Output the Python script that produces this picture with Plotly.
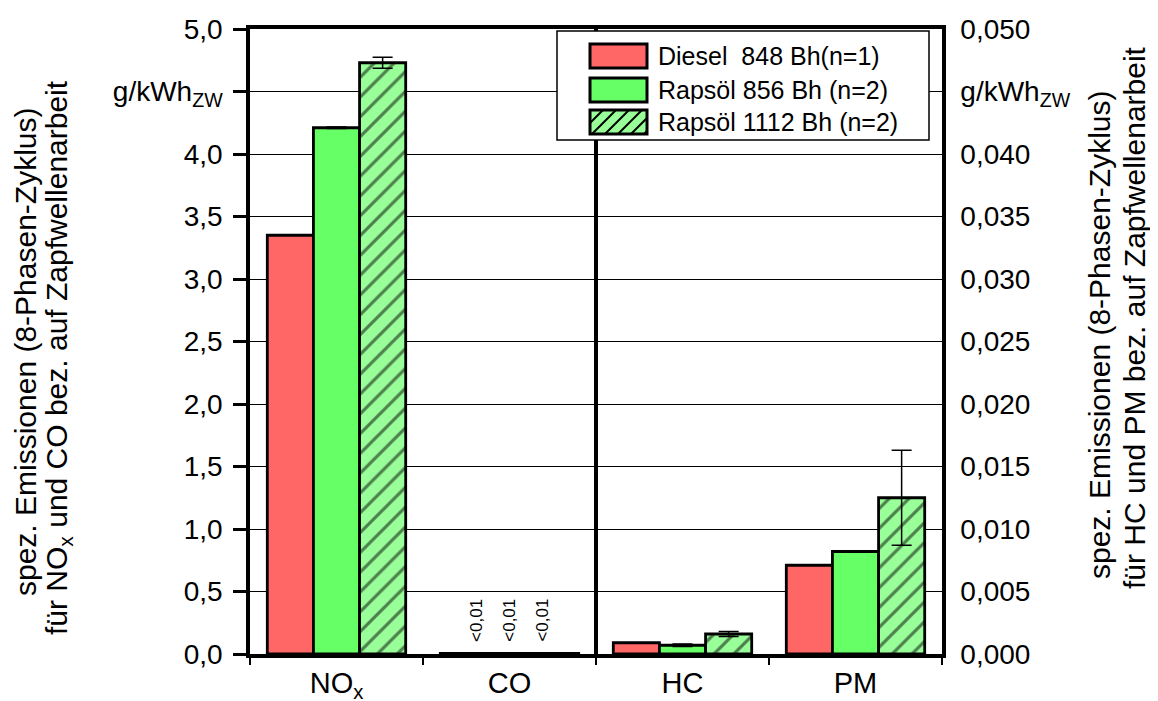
import plotly.graph_objects as go

# ---------------- data ----------------
categories = ["NO<sub>x</sub>", "CO", "HC", "PM"]
left_categories = ["NO<sub>x</sub>", "CO"]      # left axis (g/kWh, 0..5)
right_categories = ["HC", "PM"]                 # right axis (g/kWh, 0..0.05)

series_names = ["Diesel  848 Bh(n=1)", "Rapsöl 856 Bh (n=2)", "Rapsöl 1112 Bh (n=2)"]

# NOx, CO values (left axis)
diesel_left = [3.35, 0.004]
raps856_left = [4.21, 0.004]
raps1112_left = [4.73, 0.004]
diesel_left_err = [0.0, 0.0]
raps856_left_err = [0.006, 0.0]
raps1112_left_err = [0.045, 0.0]

# HC, PM values (right axis)
diesel_right = [0.0009, 0.0071]
raps856_right = [0.0007, 0.0082]
raps1112_right = [0.0016, 0.0125]
diesel_right_err = [0.0, 0.0]
raps856_right_err = [0.0001, 0.0]
raps1112_right_err = [0.0002, 0.0038]

co_labels = ["<0,01", "<0,01", "<0,01"]

left_tickvals = [0, 0.5, 1.0, 1.5, 2.0, 2.5, 3.0, 3.5, 4.0, 4.5, 5.0]
left_ticktext = ["0,0", "0,5", "1,0", "1,5", "2,0", "2,5", "3,0", "3,5", "4,0",
                 "g/kWh<sub>ZW</sub>", "5,0"]
right_tickvals = [0, 0.005, 0.010, 0.015, 0.020, 0.025, 0.030, 0.035, 0.040, 0.045, 0.050]
right_ticktext = ["0,000", "0,005", "0,010", "0,015", "0,020", "0,025", "0,030", "0,035",
                  "0,040", "g/kWh<sub>ZW</sub>", "0,050"]

# ---------------- style ----------------
FONT = "Liberation Sans, Arial, sans-serif"
colors = ["#FF6666", "#66FF66", "#99FF99"]
patterns = ["", "", "/"]
OFF = 8                      # default page body margin
W, H = 1158 - OFF, 701 - OFF
ML, MR, MT, MB = 250 - OFF, 216, 29 - OFF, 47
PW, PH = W - ML - MR, H - MT - MB


def px_to_paper(px, py):
    """page pixel -> paper coords"""
    return (px - OFF - ML) / PW, (H - MB - (py - OFF)) / PH


fig = go.Figure()

left_vals = [diesel_left, raps856_left, raps1112_left]
left_errs = [diesel_left_err, raps856_left_err, raps1112_left_err]
right_vals = [diesel_right, raps856_right, raps1112_right]
right_errs = [diesel_right_err, raps856_right_err, raps1112_right_err]


def marker(i):
    m = dict(color=colors[i], line=dict(color="black", width=2.8))
    if patterns[i]:
        m["pattern"] = dict(shape=patterns[i], fgcolor="black", bgcolor=colors[i],
                            size=14, solidity=0.22)
    return m


for i, name in enumerate(series_names):
    show_err = any(e > 0 for e in left_errs[i])
    fig.add_trace(go.Bar(
        x=left_categories, y=left_vals[i], name=name, yaxis="y", showlegend=False,
        marker=marker(i),
        error_y=dict(type="data", array=left_errs[i], visible=show_err,
                     color="black", thickness=1.5, width=10),
    ))
for i, name in enumerate(series_names):
    show_err = any(e > 0 for e in right_errs[i])
    fig.add_trace(go.Bar(
        x=right_categories, y=right_vals[i], name=name, yaxis="y2", showlegend=False,
        marker=marker(i),
        error_y=dict(type="data", array=right_errs[i], visible=show_err,
                     color="black", thickness=1.5, width=10),
    ))

shapes = []
annotations = []

# divider between left-axis and right-axis categories
div_x = len(left_categories) - 0.5
shapes.append(dict(type="line", xref="x", yref="paper", x0=div_x, x1=div_x, y0=0, y1=1,
                   line=dict(color="black", width=4), layer="above"))

# "<0,01" labels over CO bars
co_idx = categories.index("CO")
offsets = [-0.19, 0.0, 0.19]
for k, lab in enumerate(co_labels):
    annotations.append(dict(x=co_idx + offsets[k], y=0.27, xref="x", yref="y", text=lab,
                            textangle=-90, showarrow=False, xanchor="center", yanchor="middle",
                            font=dict(family=FONT, size=17, color="black")))

# ----- custom legend -----
bx0, by0 = px_to_paper(557, 31)
bx1, by1 = px_to_paper(929, 140)
shapes.append(dict(type="rect", xref="paper", yref="paper", x0=bx0, x1=bx1, y0=by1, y1=by0,
                   fillcolor="white", line=dict(color="black", width=1.5), layer="above"))
row_y = [56, 90, 122]
sw_x0, sw_x1, sw_h = 590, 647, 24
for i, name in enumerate(series_names):
    cy = row_y[i]
    x0p, y0p = px_to_paper(sw_x0, cy + sw_h / 2)
    x1p, y1p = px_to_paper(sw_x1, cy - sw_h / 2)
    shapes.append(dict(type="rect", xref="paper", yref="paper", x0=x0p, x1=x1p, y0=y0p, y1=y1p,
                       fillcolor=colors[i], line=dict(color="black", width=0), layer="above"))
    if patterns[i]:
        step = 13
        u = sw_x0 - sw_h
        while u < sw_x1:
            t0 = max(0.0, (sw_x0 - u) / sw_h)
            t1 = min(1.0, (sw_x1 - u) / sw_h)
            if t1 > t0:
                ax, ay = u + sw_h * t0, cy + sw_h / 2 - sw_h * t0
                bxx, byy = u + sw_h * t1, cy + sw_h / 2 - sw_h * t1
                p0 = px_to_paper(ax, ay)
                p1 = px_to_paper(bxx, byy)
                shapes.append(dict(type="line", xref="paper", yref="paper",
                                   x0=p0[0], y0=p0[1], x1=p1[0], y1=p1[1],
                                   line=dict(color="black", width=2), layer="above"))
            u += step
    shapes.append(dict(type="rect", xref="paper", yref="paper", x0=x0p, x1=x1p, y0=y0p, y1=y1p,
                       fillcolor="rgba(0,0,0,0)", line=dict(color="black", width=3), layer="above"))
    tx, ty = px_to_paper(656, cy)
    annotations.append(dict(x=tx, y=ty, xref="paper", yref="paper", text=name, showarrow=False,
                            xanchor="left", yanchor="middle",
                            font=dict(family=FONT, size=25, color="black")))

# ----- axis titles -----
title_font = dict(family=FONT, size=30, color="black")
left_titles = [("spez. Emissionen (8-Phasen-Zyklus)", 26, 352),
               ("für NO<sub>x</sub> und CO bez. auf Zapfwellenarbeit", 58, 358)]
right_titles = [("spez. Emissionen (8-Phasen-Zyklus)", 1099, 335),
                ("für HC und PM bez. auf Zapfwellenarbeit", 1134, 318)]
for text, cx, cy in left_titles + right_titles:
    px_, py_ = px_to_paper(cx, cy)
    annotations.append(dict(x=px_, y=py_, xref="paper", yref="paper", text=text,
                            textangle=-90, showarrow=False, xanchor="center", yanchor="middle",
                            font=title_font))

fig.update_layout(
    width=W, height=H,
    margin=dict(l=ML, r=MR, t=MT, b=MB, pad=0),
    paper_bgcolor="white", plot_bgcolor="white",
    barmode="group", bargap=0.2, bargroupgap=0.0,
    separators=",.",
    font=dict(family=FONT, color="black"),
    showlegend=False,
    xaxis=dict(
        type="category", categoryorder="array", categoryarray=categories,
        range=[-0.5, len(categories) - 0.5],
        showline=True, linecolor="black", linewidth=3.5, mirror=True,
        ticks="outside", tickson="boundaries", ticklen=7, tickwidth=2, tickcolor="black",
        showgrid=False, tickfont=dict(family=FONT, size=29, color="black"),
        automargin=False,
    ),
    yaxis=dict(
        range=[0, 5.0], tickvals=left_tickvals, ticktext=left_ticktext,
        showline=True, linecolor="black", linewidth=3.5, mirror=False,
        ticks="outside", ticklen=13, tickwidth=3, tickcolor="black",
        showgrid=True, gridcolor="black", gridwidth=1.2, zeroline=False,
        tickfont=dict(family=FONT, size=28, color="black"), ticklabelstandoff=5,
        automargin=False,
    ),
    yaxis2=dict(
        range=[0, 0.05], tickvals=right_tickvals, ticktext=right_ticktext,
        overlaying="y", side="right",
        showline=True, linecolor="black", linewidth=3.5,
        ticks="", showgrid=False, zeroline=False,
        tickfont=dict(family=FONT, size=28, color="black"), ticklabelstandoff=9,
        automargin=False,
    ),
    shapes=shapes,
    annotations=annotations,
)

fig.write_html("out.html")
